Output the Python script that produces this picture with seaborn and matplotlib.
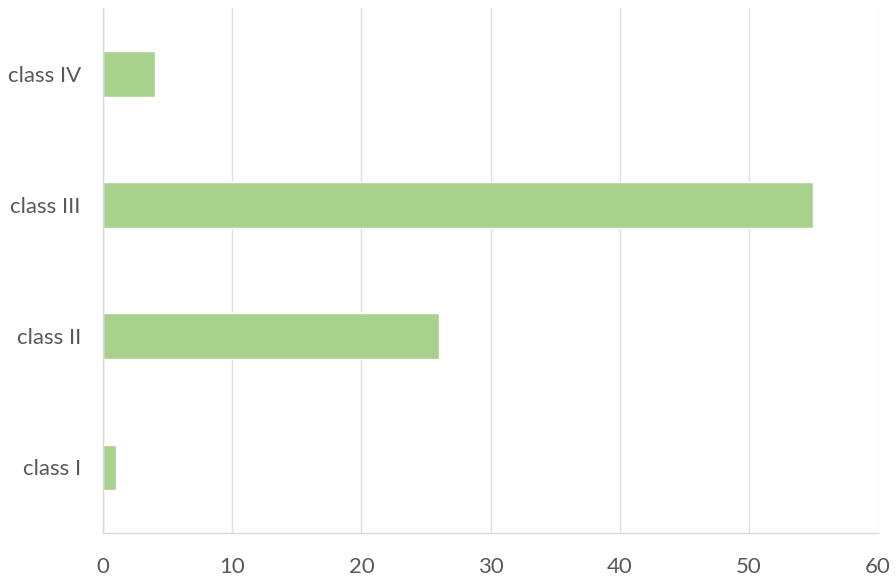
import pandas as pd
import matplotlib.pyplot as plt
import seaborn as sns

# data
classes = ['class IV', 'class III', 'class II', 'class I']
values = [4, 55, 26, 1]
x_ticks = [0, 10, 20, 30, 40, 50, 60]

df = pd.DataFrame({'cls': classes, 'value': values})

sns.set_style('white')
plt.rcParams['font.family'] = ['Lato', 'DejaVu Sans']

fig, ax = plt.subplots(figsize=(8.96, 5.82), dpi=100)
fig.subplots_adjust(left=0.115, right=0.98, top=0.986, bottom=0.084)

sns.barplot(data=df, x='value', y='cls', order=classes, orient='h',
            color='#a9d18e', saturation=1, width=0.35, ax=ax)

ax.set_xlim(0, 60)
ax.set_ylim(3.5, -0.5)
ax.set_xticks(x_ticks)
ax.set_xlabel('')
ax.set_ylabel('')

# light vertical gridlines, no frame except left and bottom
ax.grid(axis='x', color='#e0e0e0', linewidth=1)
ax.set_axisbelow(True)
for side in ['top', 'right']:
    ax.spines[side].set_visible(False)
for side in ['left', 'bottom']:
    ax.spines[side].set_color('#d9d9d9')
    ax.spines[side].set_linewidth(1)

ax.tick_params(axis='both', length=0, labelsize=16, labelcolor='#595959')
ax.tick_params(axis='x', pad=17)
ax.tick_params(axis='y', pad=16)

plt.savefig('out.png', dpi=100)
